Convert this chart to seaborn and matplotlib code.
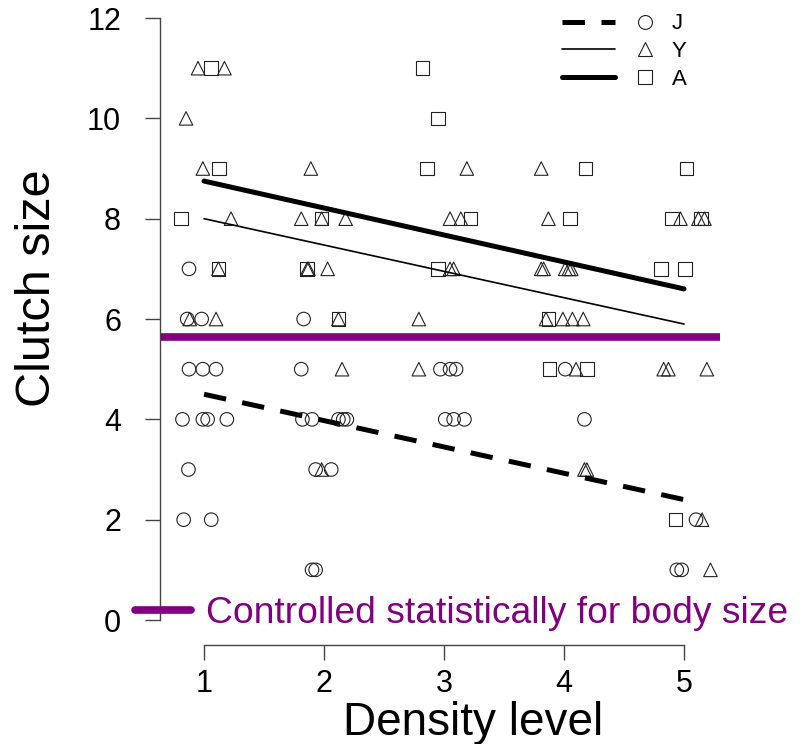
import pandas as pd
import matplotlib
matplotlib.use('Agg')
import matplotlib.pyplot as plt
import seaborn as sns
from matplotlib.lines import Line2D
from matplotlib.legend_handler import HandlerTuple

# Raw points (density level jittered, clutch size) for each stage
J_x = [0.875, 0.86, 0.98, 0.875, 0.99, 1.10, 0.82, 0.99, 1.03, 1.19, 0.87, 0.83, 1.06,
       1.83, 1.81, 1.82, 1.90, 2.12, 2.16, 2.19, 1.93, 2.06, 1.90, 1.93,
       2.97, 3.05, 3.10, 3.01, 3.08, 3.17,
       4.01, 4.17,
       5.10, 4.94, 4.98]
J_y = [7, 6, 6, 5, 5, 5, 4, 4, 4, 4, 3, 2, 2,
       6, 5, 4, 4, 4, 4, 4, 3, 3, 1, 1,
       5, 5, 5, 4, 4, 4,
       5, 4,
       2, 1, 1]

Y_x = [0.95, 1.17, 0.85, 0.99, 1.225, 1.12, 0.88, 1.10,
       1.89, 1.81, 1.98, 2.18, 1.86, 1.87, 2.03, 2.12, 2.15, 1.98,
       3.19, 3.05, 3.14, 3.05, 3.08, 2.79, 2.79,
       3.81, 3.87, 3.81, 3.83, 4.01, 4.04, 4.06, 3.85, 3.99, 4.07, 4.16, 4.10, 4.17, 4.19,
       4.97, 5.12, 5.17, 4.83, 4.87, 5.19, 5.15, 5.22]
Y_y = [11, 11, 10, 9, 8, 7, 6, 6,
       9, 8, 8, 8, 7, 7, 7, 6, 5, 3,
       9, 8, 8, 7, 7, 6, 5,
       9, 8, 7, 7, 7, 7, 7, 6, 6, 6, 6, 5, 3, 3,
       8, 8, 8, 5, 5, 5, 2, 1]

A_x = [1.06, 1.125, 0.81, 1.12,
       1.98, 1.86, 2.12,
       2.82, 2.95, 2.86, 3.22, 2.95,
       4.18, 4.05, 3.87, 3.88, 4.19,
       5.02, 4.90, 5.14, 4.81, 5.01, 4.93]
A_y = [11, 9, 8, 7,
       8, 7, 6,
       11, 10, 9, 8, 7,
       9, 8, 6, 5, 5,
       9, 8, 8, 7, 7, 2]

# Fitted regression lines (values at density 1 and 5)
fit_x = [1, 5]
fit_J = [4.5, 2.4]
fit_Y = [8.0, 5.9]
fit_A = [8.75, 6.6]

# Body-size adjusted mean
adj_mean = 5.64
adj_span = [0.62, 5.3]

stages = ['J', 'Y', 'A']
markers = {'J': 'o', 'Y': '^', 'A': 's'}
purple = '#800080'

pts = pd.concat([
    pd.DataFrame({'density': J_x, 'clutch': J_y, 'stage': 'J'}),
    pd.DataFrame({'density': Y_x, 'clutch': Y_y, 'stage': 'Y'}),
    pd.DataFrame({'density': A_x, 'clutch': A_y, 'stage': 'A'}),
], ignore_index=True)

fits = pd.concat([
    pd.DataFrame({'density': fit_x, 'clutch': fit_J, 'stage': 'J'}),
    pd.DataFrame({'density': fit_x, 'clutch': fit_Y, 'stage': 'Y'}),
    pd.DataFrame({'density': fit_x, 'clutch': fit_A, 'stage': 'A'}),
], ignore_index=True)

sns.set_style('white')
plt.rcParams['font.family'] = ['Liberation Sans', 'DejaVu Sans']
plt.rcParams['text.color'] = 'black'
plt.rcParams['axes.labelcolor'] = 'black'
plt.rcParams['xtick.color'] = 'black'
plt.rcParams['ytick.color'] = 'black'

fig = plt.figure(figsize=(8.05, 7.44), dpi=100)
ax = fig.add_axes([160 / 805, 99 / 744, 570 / 805, 635 / 744])

sns.scatterplot(data=pts, x='density', y='clutch', style='stage', markers=markers,
                style_order=stages, s=95, color='black', linewidth=0.8,
                legend=False, ax=ax, zorder=3)
for coll in ax.collections:
    coll.set_facecolor('none')
    coll.set_edgecolor('#222222')

line_kw = {'J': dict(lw=3.6, dashes=(4.5, 3.3)),
           'Y': dict(lw=1.2),
           'A': dict(lw=3.6)}
for st in stages:
    sub = fits[fits['stage'] == st]
    sns.lineplot(data=sub, x='density', y='clutch', color='black', ax=ax,
                 legend=False, zorder=4, **line_kw[st])

ax.plot(adj_span, [adj_mean, adj_mean], color=purple, lw=5.5, zorder=2,
        solid_capstyle='butt')

ax.set_xlim(0.633, 5.383)
ax.set_ylim(-0.498, 12.16)
ax.set_xticks([1, 2, 3, 4, 5])
ax.set_yticks(range(0, 13, 2))
for side in ['top', 'right']:
    ax.spines[side].set_visible(False)
ax.spines['left'].set_bounds(0, 12)
ax.spines['bottom'].set_bounds(1, 5)
for side in ['left', 'bottom']:
    ax.spines[side].set_color('#444444')
    ax.spines[side].set_linewidth(1.0)
ax.tick_params(axis='both', direction='out', length=11, width=1.0,
               color='#444444', labelsize=22, pad=6, left=True, bottom=True)
ax.tick_params(axis='y', pad=17)

ax.set_xlabel('Density level', fontsize=33, va='baseline')
ax.xaxis.set_label_coords(0.55, -0.1417)
ax.set_ylabel('Clutch size', fontsize=35, va='center', ha='center')
ax.yaxis.set_label_coords(-0.215, 0.562)

# stage legend: line key then marker key
handles = []
for st in stages:
    ln = Line2D([], [], color='black', **line_kw[st])
    mk = Line2D([], [], color='#222222', marker=markers[st], linestyle='none',
                markerfacecolor='none', markersize=10, markeredgewidth=0.8)
    handles.append((ln, mk))
leg = ax.legend(handles, stages, loc='upper left', bbox_to_anchor=(0.670, 1.026),
                frameon=False, fontsize=16, handlelength=4.93, labelspacing=0.3,
                handletextpad=0.0,
                handler_map={tuple: HandlerTuple(ndivide=2, pad=0.16)})
ax.add_artist(leg)

# note for the purple line
ax.legend([Line2D([], [], color=purple, lw=5.5)],
          ['Controlled statistically for body size'],
          loc='lower left', bbox_to_anchor=(-0.102, -0.031), frameon=False,
          fontsize=26.8, labelcolor=purple, handlelength=1.5, handletextpad=0.4)

fig.savefig('out.png', dpi=100)
